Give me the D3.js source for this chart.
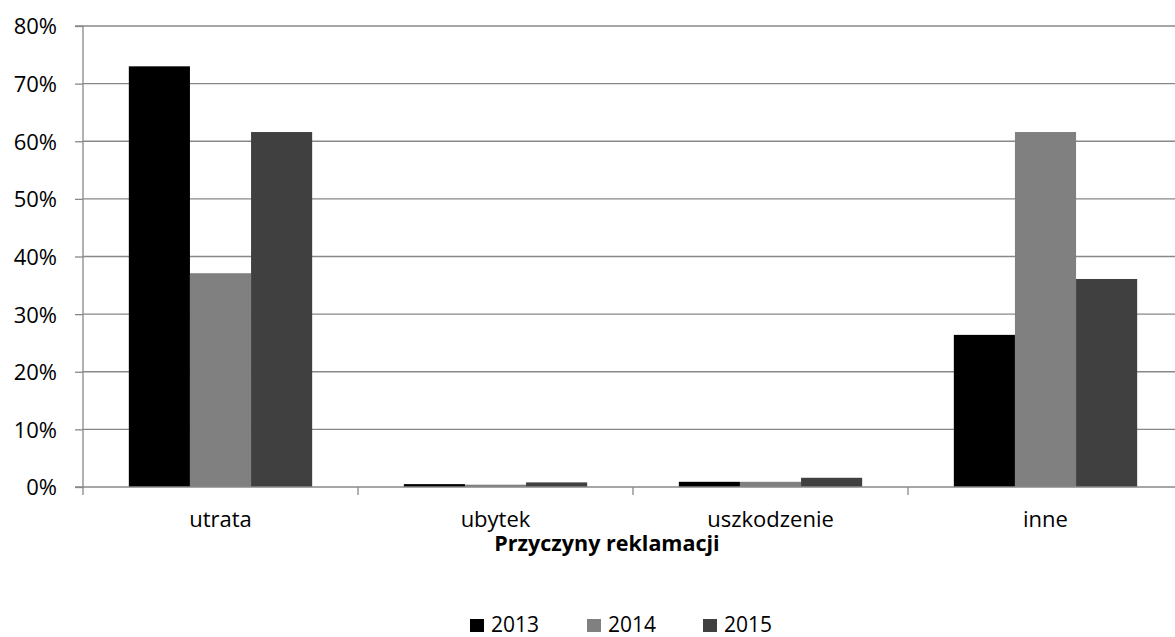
<!DOCTYPE html>
<html>
<head>
<meta charset="utf-8">
<script src="https://cdn.jsdelivr.net/npm/d3@7"></script>
<style>
  html, body { margin: 0; padding: 0; background: #fff; }
  svg { display: block; font-family: "Open Sans", "Noto Sans", sans-serif; }
</style>
</head>
<body>
<svg id="chart" width="1175" height="637"></svg>
<script>
// Complaint causes by year (share of all complaints)
const categories = ["utrata", "ubytek", "uszkodzenie", "inne"];
const years = ["2013", "2014", "2015"];
const values2013 = [0.730, 0.005, 0.009, 0.264];
const values2014 = [0.371, 0.004, 0.009, 0.616];
const values2015 = [0.616, 0.008, 0.016, 0.361];
const yTicks = [0, 0.1, 0.2, 0.3, 0.4, 0.5, 0.6, 0.7, 0.8];
const colors = ["#000000", "#808080", "#404040"];
const axisTitle = "Przyczyny reklamacji";

const series = [values2013, values2014, values2015];

const svg = d3.select("#chart");
const margin = { left: 83, top: 26, right: 1183, bottom: 487 };
const fontSize = 22;

const x = d3.scaleBand().domain(categories).range([margin.left, margin.right]).padding(0);
const xInner = d3.scaleBand().domain(years).range([0, x.bandwidth()])
  .paddingInner(0).paddingOuter(0.75);
const y = d3.scaleLinear().domain([0, 0.8]).range([margin.bottom, margin.top]);

const gridColor = "#888888";

// horizontal gridlines
svg.append("g")
  .selectAll("line")
  .data(yTicks.slice(1))
  .join("line")
  .attr("x1", margin.left).attr("x2", margin.right)
  .attr("y1", d => y(d)).attr("y2", d => y(d))
  .attr("stroke", gridColor).attr("stroke-width", 1.3);

// bars
const groups = svg.append("g")
  .selectAll("g")
  .data(categories)
  .join("g")
  .attr("transform", c => `translate(${x(c)},0)`);

groups.selectAll("rect")
  .data((c, i) => years.map((yr, j) => ({ yr, v: series[j][i], j })))
  .join("rect")
  .attr("x", d => xInner(d.yr))
  .attr("width", xInner.bandwidth())
  .attr("y", d => y(d.v))
  .attr("height", d => y(0) - y(d.v))
  .attr("fill", d => colors[d.j]);

// y axis
const yAxis = d3.axisLeft(y).tickValues(yTicks)
  .tickFormat(d3.format(".0%")).tickSize(8).tickPadding(18);
const gy = svg.append("g").attr("transform", `translate(${margin.left},0)`).call(yAxis);
gy.select(".domain").attr("stroke", gridColor).attr("stroke-width", 1.3).attr("d", `M-8,${margin.top}H0V${margin.bottom}H-8`);
gy.selectAll(".tick line").attr("stroke", gridColor).attr("stroke-width", 1.3);
gy.selectAll(".tick text").attr("fill", "#000").attr("font-size", fontSize)
  .attr("font-family", "'Open Sans', sans-serif").attr("dy", "0.36em");

// x axis with ticks on category boundaries
const gx = svg.append("g").attr("transform", `translate(0,${margin.bottom})`);
gx.append("line")
  .attr("x1", margin.left).attr("x2", margin.right)
  .attr("stroke", gridColor).attr("stroke-width", 1.3);
gx.selectAll("line.tk")
  .data(categories.map(c => x(c)).concat([margin.right]))
  .join("line").attr("class", "tk")
  .attr("x1", d => d).attr("x2", d => d)
  .attr("y1", 0).attr("y2", 8)
  .attr("stroke", gridColor).attr("stroke-width", 1.3);
gx.selectAll("text")
  .data(categories)
  .join("text")
  .attr("x", c => x(c) + x.bandwidth() / 2)
  .attr("y", 40)
  .attr("text-anchor", "middle")
  .attr("font-size", fontSize)
  .attr("fill", "#000")
  .text(c => c);

// axis title
svg.append("text")
  .attr("x", 607).attr("y", 551)
  .attr("text-anchor", "middle")
  .attr("font-size", 21.5).attr("font-weight", "bold")
  .attr("fill", "#000")
  .text(axisTitle);

// legend
const legendX = [470, 587, 703];
const legend = svg.append("g");
years.forEach((yr, j) => {
  legend.append("rect")
    .attr("x", legendX[j]).attr("y", 619)
    .attr("width", 14).attr("height", 13)
    .attr("fill", colors[j]);
  legend.append("text")
    .attr("x", legendX[j] + 21).attr("y", 632)
    .attr("font-size", 21).attr("fill", "#000")
    .text(yr);
});
</script>
</body>
</html>
